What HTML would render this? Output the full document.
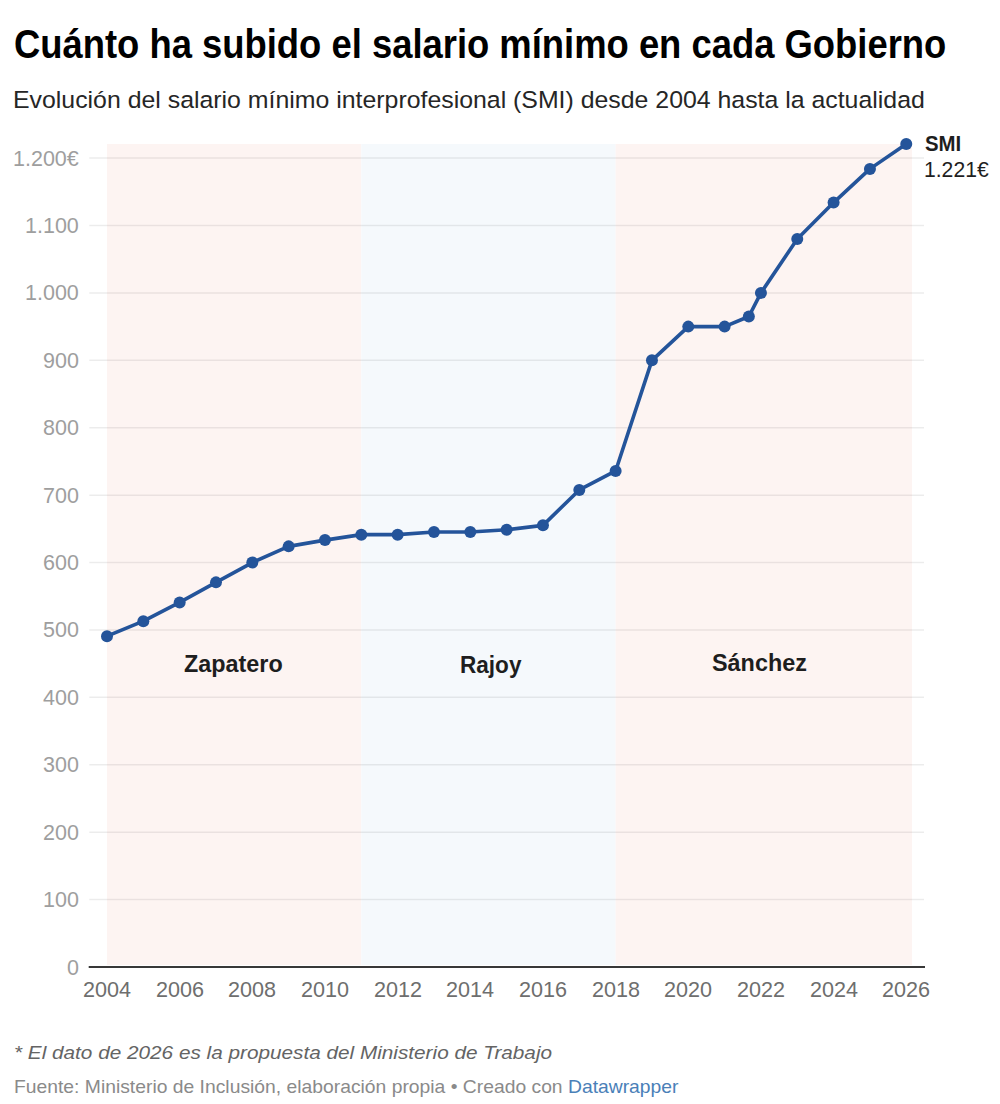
<!DOCTYPE html>
<html><head><meta charset="utf-8">
<style>
html,body{margin:0;padding:0;background:#fff;width:1000px;height:1104px;overflow:hidden;}
body{position:relative;font-family:"Liberation Sans",sans-serif;}
.t{position:absolute;white-space:nowrap;line-height:1;transform-origin:0 0;}
</style></head><body>
<svg width="1000" height="1104" viewBox="0 0 1000 1104" style="position:absolute;left:0;top:0">
<rect x="107.00" y="143.95" width="254.31" height="821.05" fill="#fdf4f2"/>
<rect x="361.31" y="143.95" width="254.31" height="821.05" fill="#f5f9fc"/>
<rect x="615.62" y="143.95" width="296.38" height="821.05" fill="#fdf4f2"/>
<g stroke="rgba(0,0,0,0.075)" stroke-width="1.5">
<line x1="89.3" x2="924" y1="899.59" y2="899.59"/>
<line x1="89.3" x2="924" y1="832.18" y2="832.18"/>
<line x1="89.3" x2="924" y1="764.78" y2="764.78"/>
<line x1="89.3" x2="924" y1="697.37" y2="697.37"/>
<line x1="89.3" x2="924" y1="629.96" y2="629.96"/>
<line x1="89.3" x2="924" y1="562.55" y2="562.55"/>
<line x1="89.3" x2="924" y1="495.14" y2="495.14"/>
<line x1="89.3" x2="924" y1="427.74" y2="427.74"/>
<line x1="89.3" x2="924" y1="360.33" y2="360.33"/>
<line x1="89.3" x2="924" y1="292.92" y2="292.92"/>
<line x1="89.3" x2="924" y1="225.51" y2="225.51"/>
<line x1="89.3" x2="924" y1="158.10" y2="158.10"/>
</g>
<line x1="88.7" x2="925" y1="967" y2="967" stroke="#383838" stroke-width="2.2"/>
<polyline fill="none" stroke="#24549a" stroke-width="3.6" stroke-linejoin="round" stroke-linecap="round" points="107.00,636.16 143.33,621.20 179.66,602.39 215.99,582.37 252.32,562.55 288.65,546.37 324.98,540.11 361.31,534.65 397.64,534.65 433.97,532.02 470.30,532.02 506.63,529.79 542.96,525.34 579.29,489.95 615.62,470.94 651.95,360.33 688.28,326.62 724.61,326.62 748.84,316.51 760.94,292.92 797.27,238.99 833.60,202.59 869.93,168.89 906.26,143.95"/>
<g fill="#24549a">
<circle cx="107.00" cy="636.16" r="6"/>
<circle cx="143.33" cy="621.20" r="6"/>
<circle cx="179.66" cy="602.39" r="6"/>
<circle cx="215.99" cy="582.37" r="6"/>
<circle cx="252.32" cy="562.55" r="6"/>
<circle cx="288.65" cy="546.37" r="6"/>
<circle cx="324.98" cy="540.11" r="6"/>
<circle cx="361.31" cy="534.65" r="6"/>
<circle cx="397.64" cy="534.65" r="6"/>
<circle cx="433.97" cy="532.02" r="6"/>
<circle cx="470.30" cy="532.02" r="6"/>
<circle cx="506.63" cy="529.79" r="6"/>
<circle cx="542.96" cy="525.34" r="6"/>
<circle cx="579.29" cy="489.95" r="6"/>
<circle cx="615.62" cy="470.94" r="6"/>
<circle cx="651.95" cy="360.33" r="6"/>
<circle cx="688.28" cy="326.62" r="6"/>
<circle cx="724.61" cy="326.62" r="6"/>
<circle cx="748.84" cy="316.51" r="6"/>
<circle cx="760.94" cy="292.92" r="6"/>
<circle cx="797.27" cy="238.99" r="6"/>
<circle cx="833.60" cy="202.59" r="6"/>
<circle cx="869.93" cy="168.89" r="6"/>
<circle cx="906.26" cy="143.95" r="6"/>
</g></svg>
<div class="t" id="title" style="left:14.29px;top:23.73px;font-size:40.00px;color:#000000;font-weight:bold;transform:scaleX(0.9099);">Cuánto ha subido el salario mínimo en cada Gobierno</div>
<div class="t" id="sub" style="left:13.47px;top:87.76px;font-size:24.50px;color:#262626;transform:scaleX(1.0144);">Evolución del salario mínimo interprofesional (SMI) desde 2004 hasta la actualidad</div>
<div class="t" id="y0" style="left:67.00px;top:957.50px;font-size:21.50px;color:#9e9e9e;">0</div>
<div class="t" id="y100" style="left:43.00px;top:890.09px;font-size:21.50px;color:#9e9e9e;">100</div>
<div class="t" id="y200" style="left:43.00px;top:822.68px;font-size:21.50px;color:#9e9e9e;">200</div>
<div class="t" id="y300" style="left:43.00px;top:755.27px;font-size:21.50px;color:#9e9e9e;">300</div>
<div class="t" id="y400" style="left:43.00px;top:687.86px;font-size:21.50px;color:#9e9e9e;">400</div>
<div class="t" id="y500" style="left:43.00px;top:620.46px;font-size:21.50px;color:#9e9e9e;">500</div>
<div class="t" id="y600" style="left:43.00px;top:553.05px;font-size:21.50px;color:#9e9e9e;">600</div>
<div class="t" id="y700" style="left:43.00px;top:485.64px;font-size:21.50px;color:#9e9e9e;">700</div>
<div class="t" id="y800" style="left:43.00px;top:418.23px;font-size:21.50px;color:#9e9e9e;">800</div>
<div class="t" id="y900" style="left:43.00px;top:350.82px;font-size:21.50px;color:#9e9e9e;">900</div>
<div class="t" id="y1000" style="left:25.00px;top:283.42px;font-size:21.50px;color:#9e9e9e;">1.000</div>
<div class="t" id="y1100" style="left:25.00px;top:216.01px;font-size:21.50px;color:#9e9e9e;">1.100</div>
<div class="t" id="y1200" style="left:13.00px;top:148.60px;font-size:21.50px;color:#9e9e9e;">1.200€</div>
<div class="t" id="x2004" style="left:82.90px;top:980.40px;font-size:21.50px;color:#6e6e6e;transform:scaleX(1.0043);">2004</div>
<div class="t" id="x2006" style="left:155.56px;top:980.40px;font-size:21.50px;color:#6e6e6e;transform:scaleX(1.0043);">2006</div>
<div class="t" id="x2008" style="left:228.22px;top:980.40px;font-size:21.50px;color:#6e6e6e;transform:scaleX(1.0043);">2008</div>
<div class="t" id="x2010" style="left:300.88px;top:980.40px;font-size:21.50px;color:#6e6e6e;transform:scaleX(1.0043);">2010</div>
<div class="t" id="x2012" style="left:373.54px;top:980.40px;font-size:21.50px;color:#6e6e6e;transform:scaleX(1.0043);">2012</div>
<div class="t" id="x2014" style="left:446.20px;top:980.40px;font-size:21.50px;color:#6e6e6e;transform:scaleX(1.0043);">2014</div>
<div class="t" id="x2016" style="left:518.86px;top:980.40px;font-size:21.50px;color:#6e6e6e;transform:scaleX(1.0043);">2016</div>
<div class="t" id="x2018" style="left:591.52px;top:980.40px;font-size:21.50px;color:#6e6e6e;transform:scaleX(1.0043);">2018</div>
<div class="t" id="x2020" style="left:664.18px;top:980.40px;font-size:21.50px;color:#6e6e6e;transform:scaleX(1.0043);">2020</div>
<div class="t" id="x2022" style="left:736.84px;top:980.40px;font-size:21.50px;color:#6e6e6e;transform:scaleX(1.0043);">2022</div>
<div class="t" id="x2024" style="left:809.50px;top:980.40px;font-size:21.50px;color:#6e6e6e;transform:scaleX(1.0043);">2024</div>
<div class="t" id="x2026" style="left:882.16px;top:980.40px;font-size:21.50px;color:#6e6e6e;transform:scaleX(1.0043);">2026</div>
<div class="t" id="zap" style="left:184.25px;top:653.20px;font-size:23.50px;color:#1e1e1e;font-weight:bold;transform:scaleX(0.9949);">Zapatero</div>
<div class="t" id="raj" style="left:459.54px;top:654.10px;font-size:23.50px;color:#1e1e1e;font-weight:bold;transform:scaleX(0.9603);">Rajoy</div>
<div class="t" id="san" style="left:712.20px;top:651.70px;font-size:23.50px;color:#1e1e1e;font-weight:bold;transform:scaleX(0.9957);">Sánchez</div>
<div class="t" id="smi" style="left:924.60px;top:133.45px;font-size:21.20px;color:#1e1e1e;font-weight:bold;transform:scaleX(0.9622);">SMI</div>
<div class="t" id="val" style="left:923.64px;top:158.77px;font-size:22.00px;color:#1e1e1e;transform:scaleX(0.9606);">1.221€</div>
<div class="t" id="note" style="left:13.70px;top:1044.08px;font-size:18.80px;color:#646464;font-style:italic;transform:scaleX(1.1043);">* El dato de 2026 es la propuesta del Ministerio de Trabajo</div>
<div class="t" id="src" style="left:13.98px;top:1076.71px;font-size:19.00px;color:#8a8a8a;transform:scaleX(1.0159);">Fuente: Ministerio de Inclusión, elaboración propia • Creado con <span style="color:#4a80b8">Datawrapper</span></div>
</body></html>
